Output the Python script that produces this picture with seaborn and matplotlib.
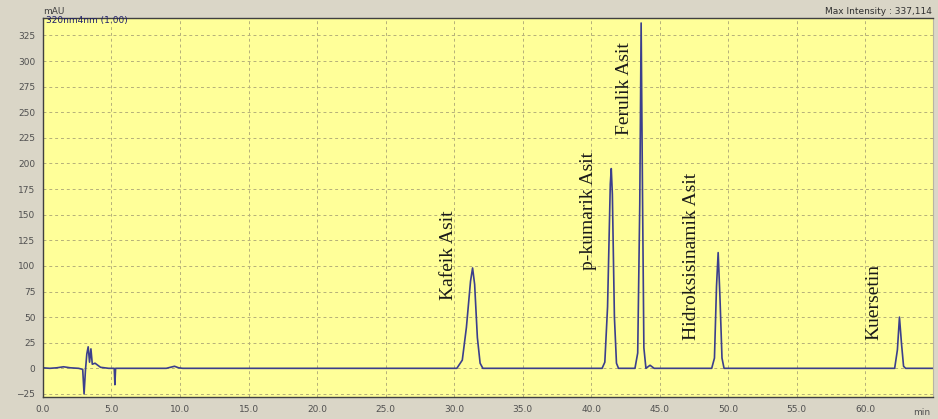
"""
HPLC chromatogram (320 nm) with phenolic acid peaks
"""
import numpy as np
import pandas as pd
import seaborn as sns
import matplotlib
matplotlib.use("Agg")
from matplotlib import pyplot as plt
from matplotlib.ticker import MultipleLocator, FormatStrFormatter

sns.set_style("white")

# retention time (min) and signal (mAU)
time_min = [0.0, 0.5, 1.0, 1.5, 2.0, 2.6, 2.9, 3.0, 3.1, 3.2, 3.3, 3.4, 3.5, 3.6, 3.8,
            4.2, 4.8, 5.2, 5.25, 5.3, 9.0, 9.3, 9.6, 9.9, 10.2, 30.2, 30.6, 30.9, 31.2,
            31.35, 31.5, 31.7, 31.9, 32.1, 40.8, 41.0, 41.2, 41.4, 41.47, 41.55, 41.7,
            41.85, 42.0, 43.2, 43.4, 43.55, 43.65, 43.75, 43.85, 44.0, 44.3, 44.6,
            48.8, 49.0, 49.15, 49.27, 49.4, 49.55, 49.7, 62.15, 62.35, 62.5, 62.65,
            62.8, 62.95, 65.0]
signal_mau = [0.5, 0.0, 0.5, 1.5, 0.5, 0.0, -1.0, -25.0, -2.0, 14.0, 21.0, 6.0, 19.0, 4.0, 5.0,
              1.0, 0.0, 0.0, -16.0, 0.0, 0.0, 1.0, 2.0, 0.5, 0.0, 0.0, 8.0, 40.0, 85.0,
              98.0, 82.0, 30.0, 5.0, 0.0, 0.0, 6.0, 60.0, 180.0, 195.0, 170.0, 50.0,
              5.0, 0.0, 0.0, 15.0, 160.0, 337.1, 170.0, 20.0, 0.0, 3.0, 0.0,
              0.0, 10.0, 80.0, 113.0, 70.0, 10.0, 0.0, 0.0, 18.0, 50.0, 24.0,
              2.0, 0.0, 0.0]

# peak names and where their rotated labels sit (time, mAU)
peak_names = ["Kafeik Asit", "p-kumarik Asit", "Ferulik Asit", "Hidroksisinamik Asit", "Kuersetin"]
label_time = [29.6, 39.8, 42.4, 47.3, 60.6]
label_mau = [67, 96, 228, 28, 28]

trace = pd.DataFrame({"time": time_min, "mAU": signal_mau})

fig = plt.figure(figsize=(9.38, 4.19), dpi=100, facecolor="#dad6c7")
ax = fig.add_axes([0.0458, 0.0525, 0.9489, 0.9045])
ax.set_facecolor("#ffff99")

sns.lineplot(data=trace, x="time", y="mAU", ax=ax, color="#3b3f8c",
             linewidth=1.2, estimator=None, sort=False)

ax.set_xlim(0, 64.95)
ax.set_ylim(-28, 342)
ax.xaxis.set_major_locator(MultipleLocator(5))
ax.xaxis.set_minor_locator(MultipleLocator(1))
ax.xaxis.set_major_formatter(FormatStrFormatter("%.1f"))
ax.yaxis.set_major_locator(MultipleLocator(25))
ax.yaxis.set_minor_locator(MultipleLocator(5))
ax.tick_params(axis="both", which="major", length=4, width=0.8, color="#404040",
               labelsize=6.5, labelcolor="#505050", pad=1.5)
ax.tick_params(axis="both", which="minor", length=2, width=0.6, color="#404040")
ax.set_xlabel("")
ax.set_ylabel("")
ax.grid(True, which="major", linestyle=(0, (3, 3)), color="#b5b07a", linewidth=0.7)
ax.set_axisbelow(True)

for side in ["left", "bottom", "top"]:
    ax.spines[side].set_color("#404040")
    ax.spines[side].set_linewidth(1.0)
ax.spines["right"].set_color("#b8b4a4")

for name, tx, ty in zip(peak_names, label_time, label_mau):
    ax.text(tx, ty, name, rotation=90, ha="center", va="bottom",
            fontsize=14, family="Liberation Serif", color="#1a1a1a")

ax.text(0.003, 1.005, "320nm4nm (1.00)", transform=ax.transAxes, ha="left", va="top",
        fontsize=6.5, color="#20206a")
fig.text(0.0458, 0.962, "mAU", ha="left", va="bottom", fontsize=6.5, color="#404040")
fig.text(0.994, 0.962, "Max Intensity : 337,114", ha="right", va="bottom",
         fontsize=6.5, color="#303030")
fig.text(0.992, 0.005, "min", ha="right", va="bottom", fontsize=6.5, color="#505050")

plt.savefig("out.png", dpi=100, facecolor=fig.get_facecolor())
